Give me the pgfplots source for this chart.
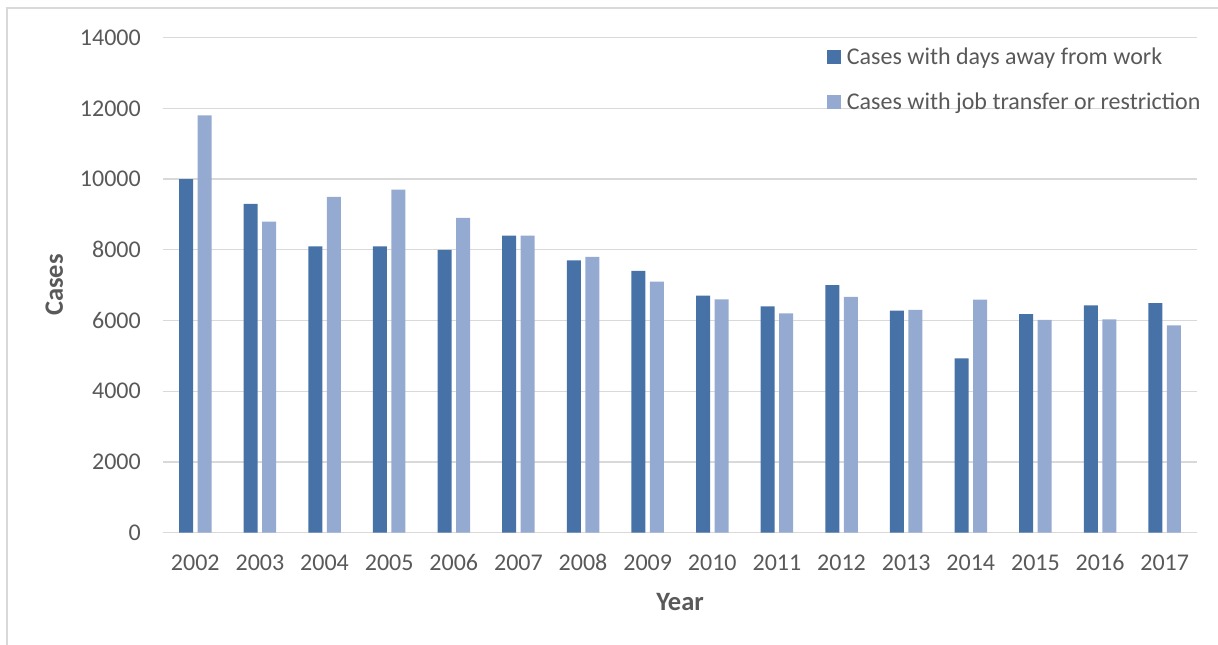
\documentclass[border=0pt]{standalone}
\usepackage{fontspec}
\setmainfont{Carlito}
\usepackage{pgfplots}
\pgfplotsset{compat=1.18}

\definecolor{darkbar}{RGB}{70,114,168}
\definecolor{lightbar}{RGB}{149,170,208}
\definecolor{gridgray}{RGB}{217,217,217}
\definecolor{textgray}{RGB}{89,89,89}

\newcommand{\chartfont}{\fontsize{24bp}{28bp}\selectfont}
\newcommand{\titlefont}{\fontsize{26.5bp}{31bp}\selectfont}

\begin{document}
\begin{tikzpicture}[x=1bp,y=1bp]
\useasboundingbox (0,0) rectangle (1218,645);
% chart area frame
\draw[gridgray, line width=1.3bp] (7,0) -- (7,637) -- (1218,637);
\begin{axis}[
  at={(163bp,112.4bp)}, anchor=south west,
  scale only axis, width=1034bp, height=494.9bp,
  xmin=-0.5, xmax=15.5, ymin=0, ymax=14000,
  ybar, bar width=14bp,
  ytick={0,2000,4000,6000,8000,10000,12000,14000},
  xtick={0,1,2,3,4,5,6,7,8,9,10,11,12,13,14,15},
  xticklabels={2002,2003,2004,2005,2006,2007,2008,2009,2010,2011,2012,2013,2014,2015,2016,2017},
  ymajorgrids, grid style={gridgray, line width=1.3bp},
  axis line style={draw=none}, major tick length=0pt,
  scaled y ticks=false,
  /pgf/number format/1000 sep={},
  /pgf/number format/assume math mode=true,
  ticklabel style={font=\chartfont, text=textgray, inner sep=0pt},
  yticklabel style={xshift=-22bp},
  xticklabel style={anchor=base, yshift=-37.6bp},
  xlabel={Year}, ylabel={Cases},
  label style={font=\bfseries\titlefont, text=textgray, inner sep=0pt},
  xlabel style={at={(axis description cs:0.5,-0.1226)}, anchor=north},
  ylabel style={at={(axis description cs:-0.0964,0.5)}, anchor=south},
  legend cell align=left,
  legend image code/.code={\fill[#1] (0bp,-7bp) rectangle (14bp,7bp);},
  legend style={draw=none, fill=none, inner sep=0pt,
    at={(0.6419,0.9761)}, anchor=north west,
    row sep=30bp, font=\chartfont, text=textgray,
    nodes={inner sep=0pt, text height=15bp, text depth=0pt},
    /tikz/every odd column/.append style={column sep=6bp}},
]
\addplot[fill=darkbar, draw=none, bar shift=-9.25bp] coordinates {
  (0,10000) (1,9300) (2,8100) (3,8100) (4,8000) (5,8400) (6,7700) (7,7400)
  (8,6700) (9,6400) (10,7000) (11,6280) (12,4930) (13,6180) (14,6430) (15,6490)
};
\addplot[fill=lightbar, draw=none, bar shift=9.25bp] coordinates {
  (0,11800) (1,8800) (2,9500) (3,9700) (4,8900) (5,8400) (6,7800) (7,7100)
  (8,6600) (9,6200) (10,6670) (11,6300) (12,6590) (13,6020) (14,6030) (15,5860)
};
\legend{Cases with days away from work, Cases with job transfer or restriction}
\end{axis}
\end{tikzpicture}
\end{document}
